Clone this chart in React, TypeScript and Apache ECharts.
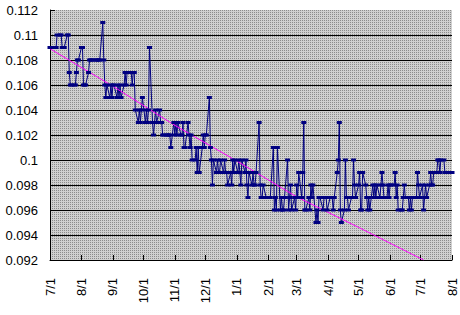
import React, { useEffect, useRef } from "react";
import * as echarts from "echarts";

// Daily (business-day) rate values, starting 2005-07-01
const rateValues: number[] = [
  0.109, 0.109, 0.109, 0.109, 0.109, 0.110, 0.110, 0.110, 0.109, 0.109, 0.109, 0.110, 0.110, 0.107, 0.106,
  0.106, 0.106, 0.106, 0.107, 0.108, 0.108, 0.109, 0.109, 0.106, 0.106, 0.106, 0.107, 0.108,
  0.108, 0.108, 0.108, 0.108, 0.108, 0.108, 0.108, 0.108, 0.111, 0.108,
  0.106, 0.105, 0.106, 0.105, 0.106, 0.105, 0.106, 0.106, 0.105, 0.106, 0.105, 0.106, 0.105,
  0.106, 0.107, 0.106, 0.107, 0.107, 0.107, 0.106, 0.107, 0.107,
  0.104, 0.103,
  0.104, 0.103, 0.104, 0.105, 0.103, 0.104, 0.103, 0.104,
  0.109,
  0.103, 0.102, 0.103,
  0.104, 0.103, 0.104, 0.103, 0.103,
  0.102, 0.102, 0.102, 0.102, 0.102, 0.102,
  0.101, 0.103, 0.102,
  0.103, 0.102, 0.103, 0.102, 0.102, 0.103,
  0.101, 0.101,
  0.103,
  0.102, 0.101, 0.102,
  0.100, 0.100, 0.101,
  0.099, 0.101, 0.099,
  0.101, 0.102, 0.101, 0.102, 0.102,
  0.105,
  0.101, 0.100, 0.098,
  0.100, 0.099, 0.100, 0.099, 0.099, 0.100, 0.099, 0.100, 0.099, 0.099,
  0.098, 0.099, 0.098,
  0.100, 0.099, 0.100, 0.099, 0.100, 0.099, 0.098,
  0.100, 0.099, 0.100, 0.098, 0.097,
  0.099, 0.098, 0.099, 0.098, 0.098, 0.099,
  0.103,
  0.098, 0.097, 0.097, 0.098, 0.097, 0.097,
  0.097, 0.097, 0.097, 0.101,
  0.096, 0.097, 0.096,
  0.101,
  0.096, 0.097, 0.096, 0.096, 0.097, 0.100,
  0.096, 0.097, 0.098, 0.096, 0.097, 0.096, 0.098, 0.097,
  0.099, 0.097, 0.099,
  0.103,
  0.096, 0.096, 0.097, 0.096,
  0.098,
  0.097, 0.098,
  0.095, 0.096, 0.095,
  0.097, 0.097, 0.096, 0.097, 0.097, 0.097, 0.096, 0.097, 0.097, 0.097, 0.096, 0.097,
  0.099, 0.100,
  0.103,
  0.096, 0.095, 0.096,
  0.100,
  0.097, 0.097, 0.096, 0.097, 0.097,
  0.100,
  0.098, 0.097, 0.098,
  0.099,
  0.096, 0.096,
  0.099,
  0.098, 0.097, 0.096, 0.097, 0.096,
  0.098, 0.097, 0.098, 0.097, 0.098, 0.097, 0.098,
  0.099,
  0.098, 0.097, 0.097, 0.098, 0.097,
  0.098, 0.098, 0.098,
  0.099, 0.097, 0.098,
  0.096, 0.096, 0.096,
  0.097, 0.098, 0.097, 0.097,
  0.096, 0.097, 0.096,
  0.097, 0.097, 0.097, 0.099,
  0.098, 0.097, 0.098,
  0.096,
  0.097, 0.098, 0.097, 0.098,
  0.099, 0.098,
  0.098, 0.099, 0.099,
  0.100, 0.100,
  0.099, 0.100, 0.100,
  0.099, 0.099, 0.099, 0.099, 0.099, 0.099,
];

// Trend line points
const trendDates: string[] = ["2005-07-01", "2005-09-01", "2005-11-01", "2006-01-01", "2006-03-01", "2006-05-01", "2006-07-04"];
const trendValues: number[] = [0.1089, 0.1059, 0.10277, 0.09992, 0.09705, 0.09461, 0.092];

const xStart = "2005-07-01";
const xEnd = "2006-08-01";
const yMin = 0.092;
const yMax = 0.112;
const yStep = 0.002;

function businessDays(start: Date, count: number): number[] {
  const out: number[] = [];
  const d = new Date(start.getFullYear(), start.getMonth(), start.getDate());
  while (out.length < count) {
    const wd = d.getDay();
    if (wd !== 0 && wd !== 6) out.push(d.getTime());
    d.setDate(d.getDate() + 1);
  }
  return out;
}

function parseLocal(s: string): number {
  const [y, m, d] = s.split("-").map(Number);
  return new Date(y, m - 1, d).getTime();
}

export default function App() {
  const ref = useRef<HTMLDivElement>(null);
  useEffect(() => {
    if (!ref.current) return;
    const chart = echarts.init(ref.current, null, { renderer: "svg" });
    const cv = document.createElement("canvas");
    cv.width = 2;
    cv.height = 2;
    const ctx = cv.getContext("2d");
    if (ctx) {
      ctx.fillStyle = "#d0d0d0";
      ctx.fillRect(0, 0, 2, 2);
      ctx.fillStyle = "#8c8c8c";
      ctx.fillRect(0, 0, 1, 1);
    }
    const dates = businessDays(new Date(parseLocal(xStart)), rateValues.length);
    const lineData = rateValues.map((v, i) => [dates[i], v]);
    const trendData = trendValues.map((v, i) => [parseLocal(trendDates[i]), v]);
    const font = { fontFamily: "Liberation Sans, Arial, sans-serif", fontSize: 13, color: "#000" };
    chart.setOption({
      animation: false,
      backgroundColor: "#fff",
      grid: {
        left: 50,
        right: 8,
        top: 10,
        bottom: 55,
        show: true,
        borderWidth: 0,
        backgroundColor: { image: cv, repeat: "repeat" },
      },
      xAxis: {
        type: "time",
        min: parseLocal(xStart),
        max: parseLocal(xEnd),
        minInterval: 28 * 86400000,
        maxInterval: 31 * 86400000,
        axisLine: { show: true, lineStyle: { color: "#000", width: 1 } },
        axisTick: { show: true, inside: true, length: 5, lineStyle: { color: "#000" } },
        splitLine: { show: false },
        axisLabel: {
          ...font,
          rotate: 90,
          margin: 18,
          showMinLabel: true,
          showMaxLabel: true,
          hideOverlap: false,
          formatter: (val: number) => {
            const d = new Date(val);
            return `${d.getMonth() + 1}/${d.getDate()}`;
          },
        },
      },
      yAxis: {
        type: "value",
        min: yMin,
        max: yMax,
        interval: yStep,
        axisLine: { show: true, lineStyle: { color: "#000", width: 1 } },
        axisTick: { show: true, inside: true, length: 5, lineStyle: { color: "#000" } },
        splitLine: { show: true, showMaxLine: false, lineStyle: { color: "#000", width: 1 } },
        axisLabel: {
          ...font,
          margin: 12,
          formatter: (v: number) => String(parseFloat(v.toFixed(3))),
        },
      },
      series: [
        {
          type: "line",
          data: lineData,
          showSymbol: true,
          showAllSymbol: true,
          symbol: "rect",
          symbolSize: [5, 3],
          itemStyle: { color: "#000080" },
          lineStyle: { color: "#000080", width: 1 },
        },
        {
          type: "line",
          data: trendData,
          showSymbol: false,
          lineStyle: { color: "#ff00ff", width: 1 },
          z: 3,
        },
      ],
    });
    return () => chart.dispose();
  }, []);
  return <div ref={ref} style={{ position: "fixed", left: 0, top: 0, width: 460, height: 315 }} />;
}
